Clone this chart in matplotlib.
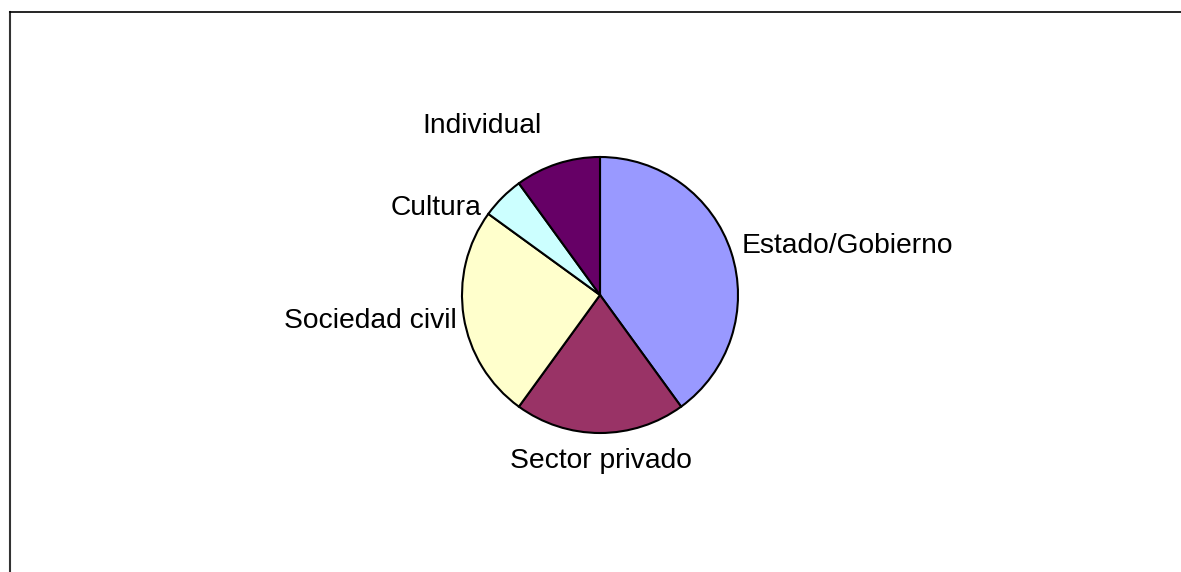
import matplotlib
matplotlib.use("Agg")
import matplotlib.pyplot as plt

# shares of each actor (percent)
categories = ["Estado/Gobierno", "Sector privado", "Sociedad civil", "Cultura", "Individual"]
values = [40, 20, 25, 5, 10]
colors = ["#9999FF", "#993366", "#FFFFCC", "#CCFFFF", "#660066"]

W, H = 1181, 572
plt.rcParams['font.family'] = ['Liberation Sans', 'DejaVu Sans']

fig = plt.figure(figsize=(W / 100, H / 100), dpi=100)
ax = fig.add_axes([0, 0, 1, 1])
ax.axis('off')

# pie centred at (600, 295) px from top-left
ax.pie(values, colors=colors, startangle=90, counterclock=False,
       center=(600, H - 295), radius=138,
       wedgeprops=dict(edgecolor='black', linewidth=1.5))
ax.set_xlim(0, W)
ax.set_ylim(0, H)
ax.set_aspect('equal')

# label placement (pixel positions, baseline)
label_pos = {
    "Estado/Gobierno": (742, 253, 'left'),
    "Sector privado": (601, 468, 'center'),
    "Sociedad civil": (457, 328, 'right'),
    "Cultura": (481, 215, 'right'),
    "Individual": (482, 133, 'center'),
}
for name in categories:
    x, y, ha = label_pos[name]
    ax.text(x, H - y, name, ha=ha, va='baseline', fontsize=20.3, color='black')

# chart-area frame (only top and left visible in the crop)
ax.plot([9.5, 9.5], [-5, H - 11.5], color='#333333', lw=1.5, clip_on=False)
ax.plot([9.5, W + 5], [H - 11.5, H - 11.5], color='black', lw=1.2, clip_on=False)

fig.savefig("out.png", dpi=100)
